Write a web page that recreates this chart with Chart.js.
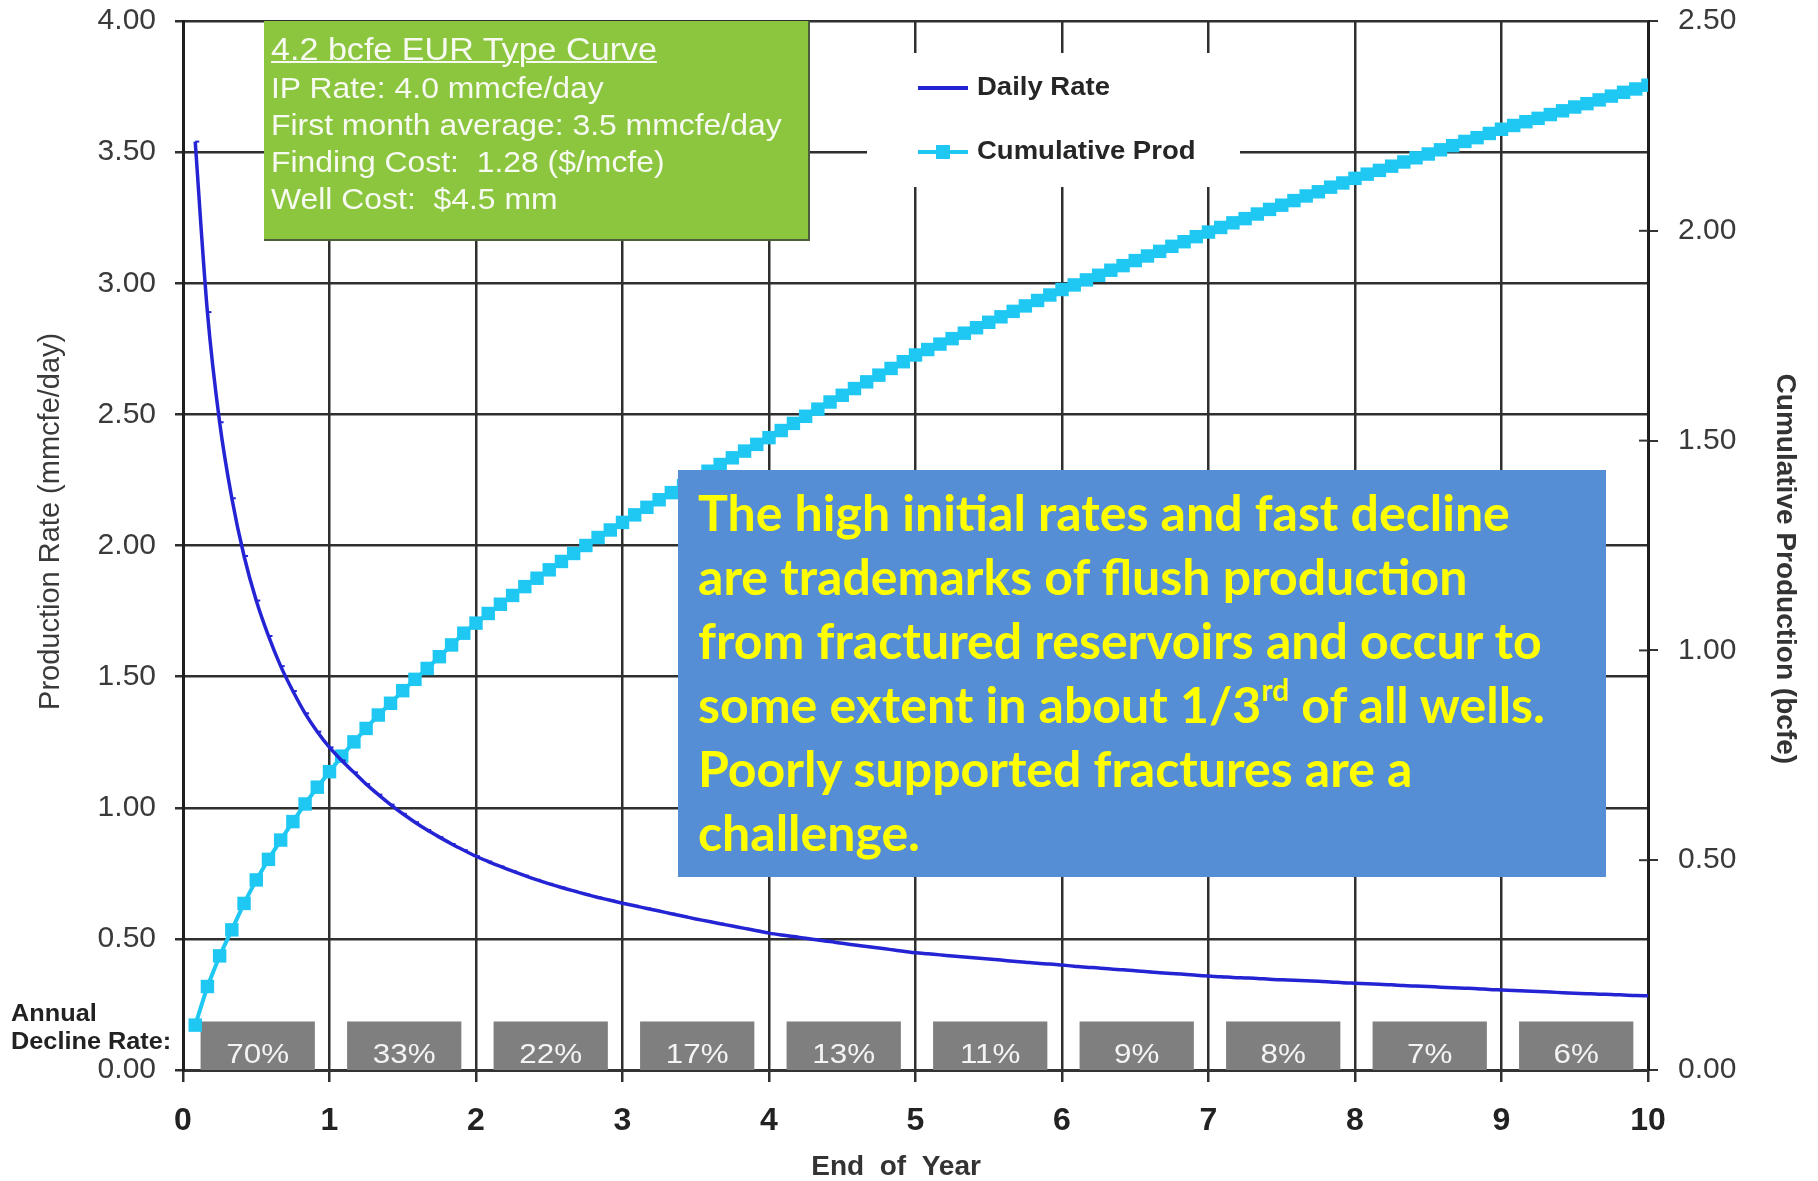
<!DOCTYPE html>
<html>
<head>
<meta charset="utf-8">
<title>4.2 bcfe EUR Type Curve</title>
<script src="https://cdn.jsdelivr.net/npm/chart.js@4.4.6/dist/chart.umd.min.js"></script>
<style>
  html, body { margin: 0; padding: 0; background: #fff; overflow: hidden; }
  #wrap { position: relative; width: 1818px; height: 1181px; }
  #typeCurve { position: absolute; left: 0; top: 0; }
  .note { position: absolute; box-sizing: border-box; }
  .green {
    left: 264px; top: 21px; width: 546px; height: 220px;
    background: #8cc63f; border-right: 2px solid #4c5e3a; border-bottom: 2px solid #4c5e3a;
    color: #f6faf0; font-family: 'Liberation Sans', Arial, sans-serif;
    padding: 9px 0 0 7px; white-space: pre;
  }
  .green .inner { transform: scaleX(1.1); transform-origin: left top; }
  .green .head { font-size: 31px; line-height: 40px; text-decoration: underline; text-decoration-thickness: 2px; }
  .green .line { font-size: 29px; line-height: 37px; }
  .blue {
    left: 678px; top: 470px; width: 928px; height: 407px;
    background: #558ed5; color: #ffff00;
    font-family: Lato, 'Open Sans', sans-serif; font-weight: 700;
    font-size: 50px; line-height: 64px; padding: 10px 0 0 20px; white-space: nowrap;
  }
  .blue sup { font-size: 0.6em; line-height: 0; vertical-align: 0.75em; }
  .decline-label {
    position: absolute; left: 11px; top: 999px;
    font-family: 'Liberation Sans', Arial, sans-serif; font-weight: 700;
    font-size: 23px; line-height: 28px; color: #222;
    transform: scaleX(1.1); transform-origin: left top; white-space: nowrap;
  }
</style>
</head>
<body>
<div id="wrap">
  <canvas id="typeCurve" width="1818" height="1181"></canvas>
  <div class="note green"><div class="inner"><div class="head">4.2 bcfe EUR Type Curve</div><div class="line">IP Rate: 4.0 mmcfe/day</div><div class="line">First month average: 3.5 mmcfe/day</div><div class="line">Finding Cost:  1.28 ($/mcfe)</div><div class="line">Well Cost:  $4.5 mm</div></div></div>
  <div class="note blue">The high initial rates and fast decline<br>are trademarks of flush production<br>from fractured reservoirs and occur to<br>some extent in about 1/3<sup>rd</sup> of all wells.<br>Poorly supported fractures are a<br>challenge.</div>
  <div class="decline-label">Annual<br>Decline Rate:</div>
</div>
<script>
// monthly values, month 1 .. month 120 (x = month / 12 years)
const dailyRate = [
  3.54, 2.89, 2.47, 2.18, 1.96, 1.79, 1.655, 1.54, 1.445, 1.36, 1.29, 1.23,
  1.18, 1.135, 1.09, 1.05, 1.012, 0.977, 0.945, 0.915, 0.888, 0.862, 0.838, 0.815,
  0.795, 0.776, 0.758, 0.741, 0.725, 0.71, 0.696, 0.683, 0.67, 0.658, 0.647, 0.636,
  0.626, 0.616, 0.606, 0.596, 0.586, 0.576, 0.567, 0.558, 0.549, 0.54, 0.531, 0.522,
  0.515, 0.509, 0.502, 0.496, 0.49, 0.483, 0.477, 0.471, 0.465, 0.459, 0.453, 0.447,
  0.443, 0.439, 0.435, 0.431, 0.427, 0.423, 0.419, 0.415, 0.411, 0.407, 0.404, 0.40,
  0.396, 0.392, 0.389, 0.385, 0.382, 0.378, 0.375, 0.371, 0.368, 0.365, 0.361, 0.358,
  0.356, 0.353, 0.351, 0.349, 0.346, 0.344, 0.342, 0.340, 0.338, 0.336, 0.333, 0.331,
  0.329, 0.327, 0.325, 0.322, 0.32, 0.318, 0.316, 0.314, 0.312, 0.31, 0.307, 0.305,
  0.303, 0.301, 0.299, 0.297, 0.295, 0.293, 0.291, 0.289, 0.288, 0.286, 0.284, 0.283
];

const cumulativeProd = [
  0.107, 0.199, 0.272, 0.334, 0.397, 0.453, 0.502, 0.548, 0.592, 0.634, 0.674, 0.711,
  0.748, 0.782, 0.814, 0.846, 0.874, 0.904, 0.931, 0.957, 0.985, 1.013, 1.041, 1.065,
  1.088, 1.110, 1.131, 1.152, 1.172, 1.192, 1.212, 1.231, 1.250, 1.269, 1.287, 1.305,
  1.323, 1.341, 1.359, 1.376, 1.393, 1.410, 1.427, 1.443, 1.459, 1.475, 1.491, 1.507,
  1.524, 1.541, 1.558, 1.575, 1.592, 1.608, 1.624, 1.640, 1.656, 1.672, 1.688, 1.704,
  1.717, 1.730, 1.743, 1.756, 1.769, 1.782, 1.795, 1.808, 1.821, 1.834, 1.847, 1.860,
  1.871, 1.883, 1.894, 1.906, 1.917, 1.929, 1.940, 1.951, 1.963, 1.974, 1.986, 1.997,
  2.008, 2.019, 2.029, 2.040, 2.051, 2.061, 2.072, 2.083, 2.093, 2.104, 2.114, 2.125,
  2.135, 2.144, 2.154, 2.164, 2.174, 2.183, 2.193, 2.203, 2.213, 2.222, 2.232, 2.242,
  2.251, 2.260, 2.268, 2.277, 2.286, 2.295, 2.303, 2.312, 2.321, 2.330, 2.338, 2.347
];

// annual decline rate (%) for years 1..10
const declineRates = [70, 33, 22, 17, 13, 11, 9, 8, 7, 6];

const FONT = "'Liberation Sans', Arial, sans-serif";
const GRID = '#2f2f2f';

const toPoints = vals => vals.map((v, i) => ({ x: (i + 1) / 12, y: v }));

// keep the plot box fixed: no extra room for half tick labels
const fixWidth = w => s => { s.width = w; s.paddingTop = 0; s.paddingBottom = 0; };

// grey annual decline boxes sitting on the x axis
const declineBoxes = {
  id: 'declineBoxes',
  beforeDatasetsDraw(chart) {
    const { ctx, scales: { x, y } } = chart;
    const top = y.getPixelForValue(0.185);
    const bottom = y.getPixelForValue(0);
    ctx.save();
    declineRates.forEach((rate, i) => {
      const left = x.getPixelForValue(i + 0.12);
      const right = x.getPixelForValue(i + 0.9);
      ctx.fillStyle = '#7f7f7f';
      ctx.fillRect(left, top, right - left, bottom - top);
      ctx.save();
      ctx.translate((left + right) / 2, bottom - 15);
      ctx.scale(1.12, 1);
      ctx.fillStyle = '#f4f4f4';
      ctx.font = `28px ${FONT}`;
      ctx.textAlign = 'center';
      ctx.textBaseline = 'middle';
      ctx.fillText(rate + '%', 0, 0);
      ctx.restore();
    });
    ctx.restore();
  }
};

// legend box inside the plot, plus the short inner ticks on the right axis
const innerLegend = {
  id: 'innerLegend',
  afterDraw(chart) {
    const { ctx, chartArea, scales } = chart;
    const right = scales.yRight;
    ctx.save();
    ctx.strokeStyle = '#333';
    ctx.lineWidth = 2;
    right.ticks.forEach(t => {
      const py = right.getPixelForValue(t.value);
      ctx.beginPath();
      ctx.moveTo(chartArea.right - 9, py);
      ctx.lineTo(chartArea.right, py);
      ctx.stroke();
    });

    ctx.fillStyle = '#fff';
    ctx.fillRect(867, 53, 373, 134);
    const rows = [88, 152];
    chart.data.datasets.forEach((ds, i) => {
      const yy = rows[i];
      ctx.strokeStyle = ds.borderColor;
      ctx.lineWidth = 4;
      ctx.beginPath();
      ctx.moveTo(918, yy);
      ctx.lineTo(968, yy);
      ctx.stroke();
      if (ds.pointStyle === 'rect') {
        ctx.fillStyle = ds.borderColor;
        ctx.fillRect(936, yy - 7, 14, 14);
      } else {
        ctx.lineWidth = 2;
        ctx.beginPath();
        ctx.moveTo(941, yy + 1);
        ctx.lineTo(947, yy + 1);
        ctx.stroke();
      }
      ctx.save();
      ctx.translate(977, yy);
      ctx.scale(1.1, 1);
      ctx.fillStyle = '#262626';
      ctx.font = `bold 25px ${FONT}`;
      ctx.textAlign = 'left';
      ctx.textBaseline = 'middle';
      ctx.fillText(ds.label, 0, 0);
      ctx.restore();
    });
    ctx.restore();
  }
};

new Chart(document.getElementById('typeCurve'), {
  type: 'line',
  data: {
    datasets: [
      {
        label: 'Daily Rate',
        data: toPoints(dailyRate),
        yAxisID: 'y',
        borderColor: '#2424d4',
        backgroundColor: '#2424d4',
        borderWidth: 3.5,
        pointStyle: 'dash',
        pointRadius: 4,
        pointBorderWidth: 2,
        tension: 0.3
      },
      {
        label: 'Cumulative Prod',
        data: toPoints(cumulativeProd),
        yAxisID: 'yRight',
        borderColor: '#1ec8f2',
        backgroundColor: '#1ec8f2',
        borderWidth: 4,
        pointStyle: 'rect',
        pointRadius: 9.5,
        pointBorderWidth: 0,
        tension: 0
      }
    ]
  },
  options: {
    responsive: false,
    animation: false,
    devicePixelRatio: 1,
    layout: { padding: { top: 21, left: 0, right: 0, bottom: 0 } },
    plugins: { legend: { display: false }, tooltip: { enabled: false } },
    scales: {
      x: {
        type: 'linear',
        min: 0,
        max: 10,
        afterFit: s => { s.height = 111; s.paddingLeft = 0; s.paddingRight = 0; },
        ticks: { stepSize: 1, padding: 20, color: '#222', font: { family: FONT, size: 32, weight: 'bold' } },
        grid: { color: GRID, lineWidth: 2.5, tickLength: 12 },
        border: { display: true, color: '#333', width: 3 },
        title: {
          display: true,
          text: 'End  of  Year     ',
          color: '#333',
          font: { family: FONT, size: 28, weight: 'bold', lineHeight: 1 },
          padding: { top: 0, bottom: 0 }
        }
      },
      y: {
        position: 'left',
        min: 0,
        max: 4,
        afterFit: fixWidth(183),
        ticks: { stepSize: 0.5, padding: 19, color: '#3a3a3a', font: { family: FONT, size: 30 }, callback: v => v.toFixed(2) },
        grid: { color: GRID, lineWidth: 2.5, tickLength: 8 },
        border: { display: true, color: '#1e1e1e', width: 3 },
        title: {
          display: true,
          text: '      Production Rate (mmcfe/day)',
          color: '#3a3a3a',
          font: { family: FONT, size: 29 },
          padding: { top: 34, bottom: 0 }
        }
      },
      yRight: {
        position: 'right',
        min: 0,
        max: 2.5,
        afterFit: fixWidth(170),
        ticks: { stepSize: 0.5, padding: 20, color: '#3a3a3a', font: { family: FONT, size: 30 }, callback: v => v.toFixed(2) },
        grid: { drawOnChartArea: false, color: '#333', lineWidth: 2, tickLength: 10 },
        border: { display: true, color: '#1e1e1e', width: 3 },
        title: {
          display: true,
          text: '      Cumulative Production (bcfe)',
          color: '#333',
          font: { family: FONT, size: 28, weight: 'bold' },
          padding: { top: 16, bottom: 0 }
        }
      }
    }
  },
  plugins: [declineBoxes, innerLegend]
});
</script>
</body>
</html>
